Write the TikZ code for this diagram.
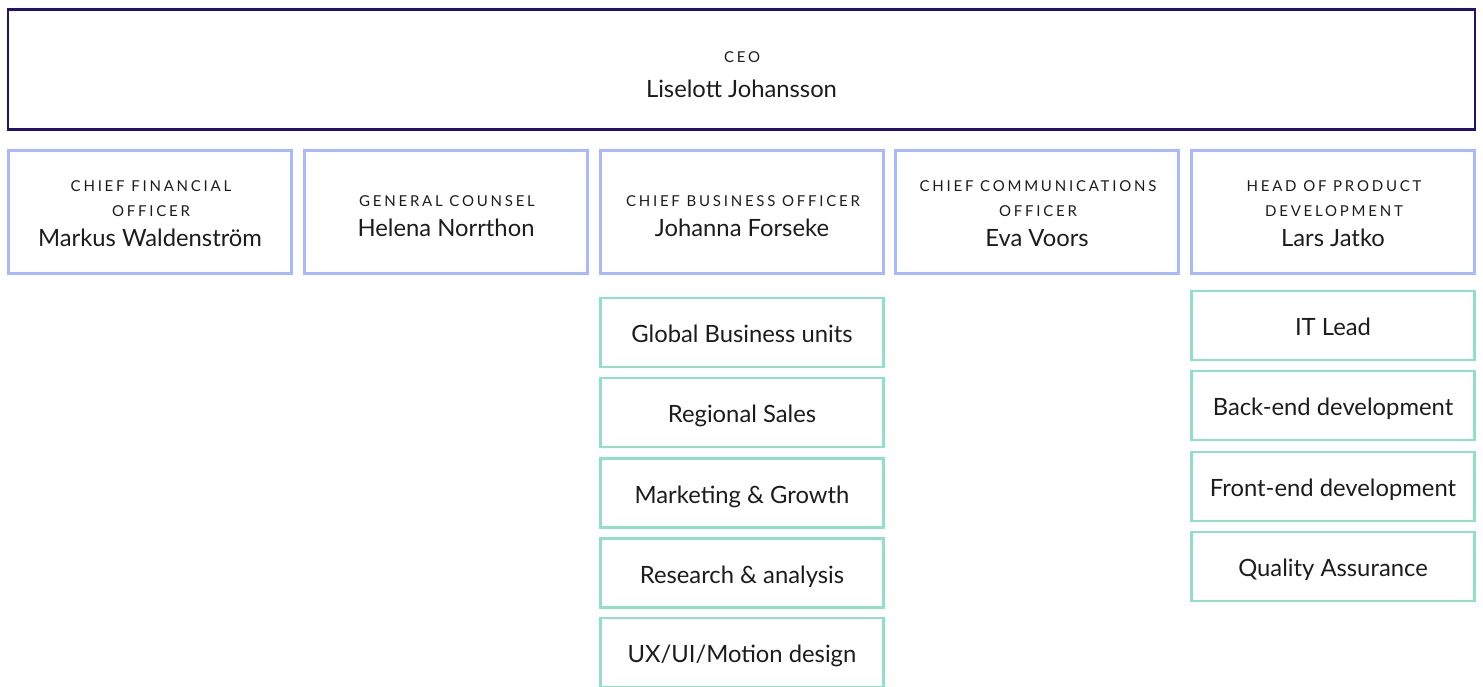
\documentclass[tikz,border=0pt]{standalone}
\usepackage{fontspec}
\setmainfont{Lato}
\newfontfamily\latoname{Lato}
\newfontfamily\latottl[LetterSpace=18.5]{Lato}
\definecolor{ceoline}{HTML}{24106E}
\definecolor{blueline}{HTML}{AAB9FF}
\definecolor{greenline}{HTML}{8FDFC9}
\definecolor{txt}{HTML}{1C1C1C}
\begin{document}
\begin{tikzpicture}[x=1pt,y=-1pt,
  ceobox/.style={draw=ceoline,line width=2.6pt,minimum width=1467pt,minimum height=120pt,inner sep=0pt},
  headbox/.style={draw=blueline,line width=2.4pt,minimum width=283pt,minimum height=123pt,inner sep=0pt},
  unitbox/.style={draw=greenline,line width=2.4pt,minimum width=283pt,minimum height=69pt,inner sep=0pt},
  ttl/.style={anchor=base,inner sep=0pt,text=txt,font=\latottl\fontsize{15}{18}\selectfont},
  nm/.style={anchor=base,inner sep=0pt,text=txt,font=\latoname\fontsize{23.8}{28}\selectfont},
]
\useasboundingbox (0,0) rectangle (1483,686);
% CEO
\node[ceobox] (ceo) at (741.5,69.5) {};
\node[ttl] (ceoT) at (742,62) {CEO};
\node[nm] (ceoN) at (741.5,97) {Liselott Johansson};
% top row
\node[headbox] (cfo) at (150,212) {};
\node[headbox] (gc)  at (446,212) {};
\node[headbox] (cbo) at (742,212) {};
\node[headbox] (cco) at (1037,212) {};
\node[headbox] (hpd) at (1333,212) {};
\node[ttl] (cfoT1) at (151,191) {CHIEF FINANCIAL};
\node[ttl] (cfoT2) at (151,216) {OFFICER};
\node[nm]  (cfoN)  at (150,246) {Markus Waldenström};
\node[ttl] (gcT)  at (447,206) {GENERAL COUNSEL};
\node[nm]  (gcN)  at (446,236) {Helena Norrthon};
\node[ttl] (cboT) at (743,206) {CHIEF BUSINESS OFFICER};
\node[nm]  (cboN) at (742,236) {Johanna Forseke};
\node[ttl] (ccoT1) at (1038,191) {CHIEF COMMUNICATIONS};
\node[ttl] (ccoT2) at (1038,216) {OFFICER};
\node[nm]  (ccoN)  at (1037,246) {Eva Voors};
\node[ttl] (hpdT1) at (1334,191) {HEAD OF PRODUCT};
\node[ttl] (hpdT2) at (1334,216) {DEVELOPMENT};
\node[nm]  (hpdN)  at (1333,246) {Lars Jatko};
% CBO units
\foreach \nme/\yy/\lbl in {gbu/332.5/{Global Business units}, rs/412.5/{Regional Sales}, mg/493/{Marketing \& Growth}, ra/573/{Research \& analysis}, ux/652.5/{UX/UI/Motion design}}{
  \node[unitbox] (\nme) at (742,\yy) {};
  \node[nm] (\nme T) at (742,\yy+10) {\lbl};
}
% HPD units
\foreach \nme/\yy/\lbl in {it/325.5/{IT Lead}, be/405.5/{Back-end development}, fe/486.5/{Front-end development}, qa/566.5/{Quality Assurance}}{
  \node[unitbox] (\nme) at (1333,\yy) {};
  \node[nm] (\nme T) at (1333,\yy+10) {\lbl};
}
\end{tikzpicture}
\end{document}
